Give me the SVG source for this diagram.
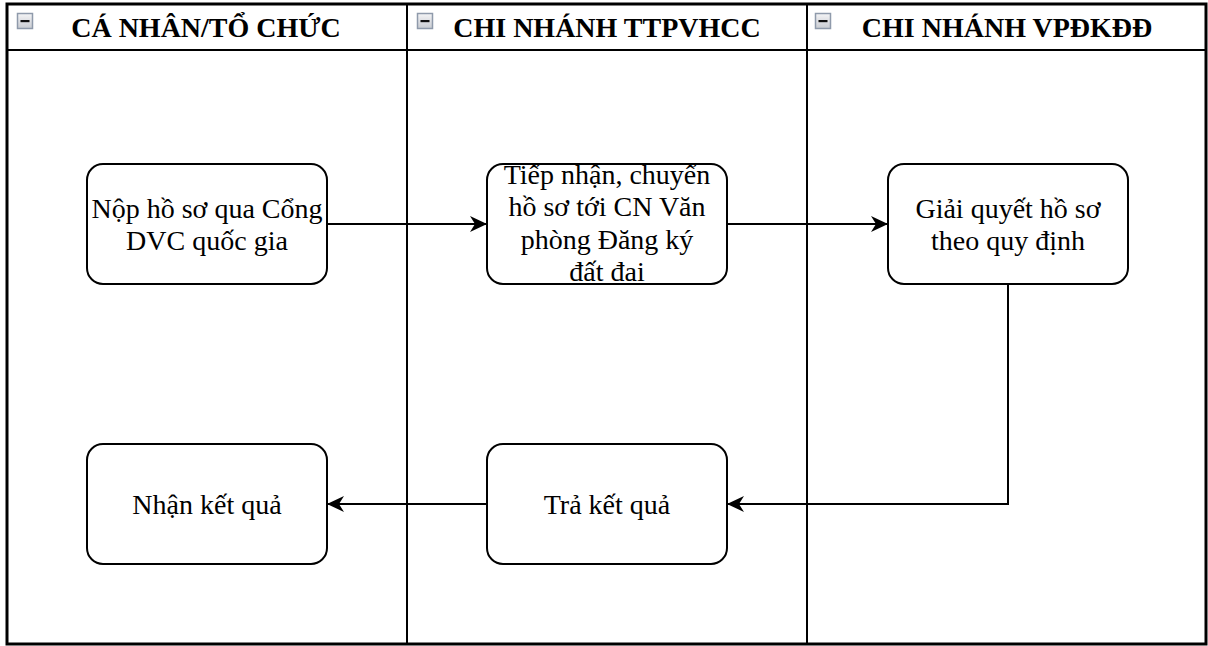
<svg xmlns="http://www.w3.org/2000/svg" width="1208" height="646" viewBox="0 0 1208 646">
<style>
.lane{fill:none;stroke:#000;stroke-width:2}
.hdr{font-family:"Liberation Serif","Times New Roman",serif;font-size:28px;font-weight:bold;text-anchor:middle;fill:#000}
.node rect{fill:#fff;stroke:#000;stroke-width:2}
.node text{font-family:"Liberation Serif","Times New Roman",serif;font-size:28px;text-anchor:middle;fill:#000}
.edge{fill:none;stroke:#000;stroke-width:2}
</style>
<defs>
<linearGradient id="ig" x1="0" y1="0" x2="0" y2="1">
<stop offset="0" stop-color="#f4f4f6"/>
<stop offset="1" stop-color="#c9ccd2"/>
</linearGradient>
<g id="icon">
<rect x="0.5" y="0.5" width="15" height="15" fill="url(#ig)" stroke="#8f9aab" stroke-width="1.5"/>
<rect x="3.5" y="7" width="9" height="2.2" fill="#111"/>
</g>
<marker id="arr" markerUnits="userSpaceOnUse" markerWidth="18" markerHeight="18" viewBox="0 0 18 18" refX="17" refY="9" orient="auto">
<path d="M0,1 L17,9 L0,17 L5,9 Z" fill="#000"/>
</marker>
</defs>
<rect width="1208" height="646" fill="#fff"/>
<g id="pool">
<rect x="7" y="4" width="1199" height="640" fill="#fff" stroke="#000" stroke-width="3"/>
<line class="lane" x1="7" y1="50" x2="1206" y2="50"/>
<line class="lane" x1="407" y1="4" x2="407" y2="644"/>
<line class="lane" x1="807" y1="4" x2="807" y2="644"/>
</g>
<g id="lane1">
<use href="#icon" x="17" y="13"/>
<text class="hdr" x="206" y="37">CÁ NHÂN/TỔ CHỨC</text>
</g>
<g id="lane2">
<use href="#icon" x="417" y="13"/>
<text class="hdr" x="607" y="37">CHI NHÁNH TTPVHCC</text>
</g>
<g id="lane3">
<use href="#icon" x="815" y="13"/>
<text class="hdr" x="1007" y="37">CHI NHÁNH VPĐKĐĐ</text>
</g>
<g id="connectors">
<path class="edge" d="M327,224 L487,224" marker-end="url(#arr)"/>
<path class="edge" d="M727,224 L888,224" marker-end="url(#arr)"/>
<path class="edge" d="M1008,284 L1008,504 L727,504" marker-end="url(#arr)"/>
<path class="edge" d="M487,504 L327,504" marker-end="url(#arr)"/>
</g>
<g id="n1" class="node">
<rect x="87" y="164" width="240" height="120" rx="16"/>
<text x="207" y="218">Nộp hồ sơ qua Cổng</text>
<text x="207" y="250">DVC quốc gia</text>
</g>
<g id="n2" class="node">
<rect x="487" y="164" width="240" height="120" rx="16"/>
<text x="607" y="184">Tiếp nhận, chuyển</text>
<text x="607" y="216">hồ sơ tới CN Văn</text>
<text x="607" y="249">phòng Đăng ký</text>
<text x="607" y="281">đất đai</text>
</g>
<g id="n3" class="node">
<rect x="888" y="164" width="240" height="120" rx="16"/>
<text x="1008" y="218">Giải quyết hồ sơ</text>
<text x="1008" y="250">theo quy định</text>
</g>
<g id="n4" class="node">
<rect x="87" y="444" width="240" height="120" rx="16"/>
<text x="207" y="514">Nhận kết quả</text>
</g>
<g id="n5" class="node">
<rect x="487" y="444" width="240" height="120" rx="16"/>
<text x="607" y="514">Trả kết quả</text>
</g>
</svg>
